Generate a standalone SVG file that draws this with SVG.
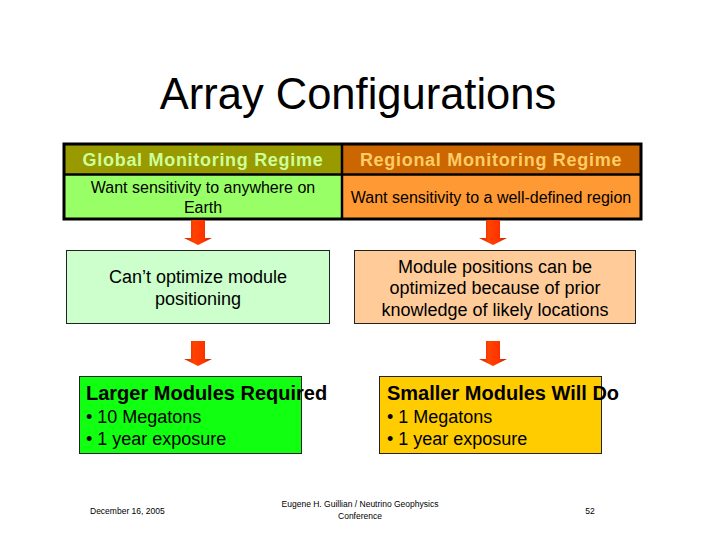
<svg xmlns="http://www.w3.org/2000/svg" width="720" height="540" viewBox="0 0 720 540">
<style>
text{font-family:"Liberation Sans",Arial,sans-serif}
.t{font-size:43.5px;fill:#000}
.h{font-size:18px;font-weight:bold;letter-spacing:0.7px;text-anchor:middle}
.b{font-size:16px;text-anchor:middle;fill:#000}
.m{font-size:18px;text-anchor:middle;fill:#000}
.bh{font-size:20px;font-weight:bold;fill:#000}
.bl{font-size:18px;fill:#000}
.f{font-size:8.5px;fill:#000}
.box{stroke:#222;stroke-width:1}
</style>
<defs>
<linearGradient id="ag" x1="0" y1="0" x2="1" y2="0">
<stop offset="0" stop-color="#CC2200"/>
<stop offset="0.35" stop-color="#FF4400"/>
<stop offset="0.7" stop-color="#FF3300"/>
<stop offset="1" stop-color="#BB2200"/>
</linearGradient>
<path id="arrow" d="M-7,0 H7 V18 H14 L0,25 L-14,18 H-7 Z" fill="url(#ag)"/>
</defs>
<rect width="720" height="540" fill="#fff"/>
<text class="t" x="358" y="109" text-anchor="middle">Array Configurations</text>
<g id="table">
<rect x="64" y="144" width="278" height="30" fill="#999900"/>
<rect x="342" y="144" width="299" height="30" fill="#CC6600"/>
<rect x="64" y="174" width="278" height="45" fill="#99FF66"/>
<rect x="342" y="174" width="299" height="45" fill="#FF9933"/>
<rect x="64" y="144" width="577" height="75" fill="none" stroke="#000" stroke-width="3"/>
<line x1="64" y1="174.5" x2="641" y2="174.5" stroke="#000" stroke-width="2.5"/>
<line x1="342" y1="144" x2="342" y2="219" stroke="#000" stroke-width="2.5"/>
<text class="h" x="203" y="166" fill="#CCFF99">Global Monitoring Regime</text>
<text class="h" x="491" y="166" fill="#FFCC66">Regional Monitoring Regime</text>
<text class="b" x="203" y="193">Want sensitivity to anywhere on</text>
<text class="b" x="203" y="213">Earth</text>
<text class="b" x="491" y="203">Want sensitivity to a well-defined region</text>
</g>
<g id="connectors">
<use href="#arrow" x="198" y="220"/>
<use href="#arrow" x="493" y="220"/>
<use href="#arrow" x="198" y="341"/>
<use href="#arrow" x="493" y="341"/>
</g>
<g id="cant-optimize">
<rect class="box" x="66.5" y="250.5" width="263" height="73" fill="#CCFFCC"/>
<text class="m" x="198" y="283">Can’t optimize module</text>
<text class="m" x="198" y="305">positioning</text>
</g>
<g id="can-optimize">
<rect class="box" x="354.5" y="250.5" width="281" height="73" fill="#FFCC99"/>
<text class="m" x="495" y="273">Module positions can be</text>
<text class="m" x="495" y="294">optimized because of prior</text>
<text class="m" x="495" y="316">knowledge of likely locations</text>
</g>
<g id="larger">
<rect class="box" x="79.5" y="376.5" width="222" height="77" fill="#11FF11"/>
<text class="bh" x="86" y="400">Larger Modules Required</text>
<text class="bl" x="86" y="423">• 10 Megatons</text>
<text class="bl" x="86" y="445">• 1 year exposure</text>
</g>
<g id="smaller">
<rect class="box" x="379.5" y="376.5" width="222" height="77" fill="#FFCC00"/>
<text class="bh" x="387" y="400">Smaller Modules Will Do</text>
<text class="bl" x="387" y="423">• 1 Megatons</text>
<text class="bl" x="387" y="445">• 1 year exposure</text>
</g>
<g id="footer">
<text class="f" x="90" y="514">December 16, 2005</text>
<text class="f" x="360" y="507" text-anchor="middle">Eugene H. Guillian / Neutrino Geophysics</text>
<text class="f" x="360" y="519" text-anchor="middle">Conference</text>
<text class="f" x="590" y="514" text-anchor="middle">52</text>
</g>
</svg>
